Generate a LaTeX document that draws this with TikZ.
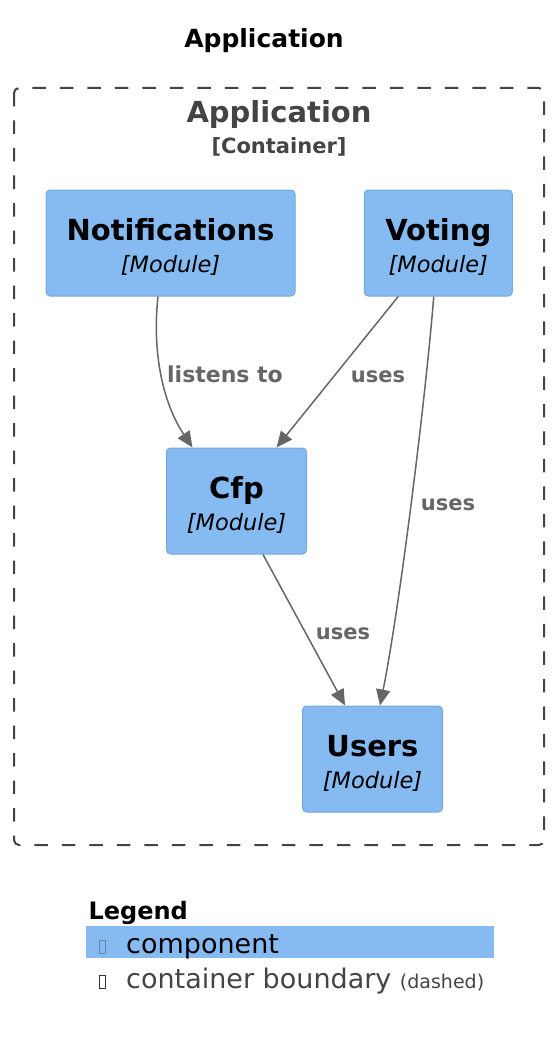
\documentclass[tikz,border=0pt]{standalone}
\usepackage{fontspec}
\setmainfont{DejaVu Sans}
\usetikzlibrary{arrows.meta}
\definecolor{compfill}{HTML}{85BBF0}
\definecolor{compline}{HTML}{78A8D8}
\definecolor{relgray}{HTML}{666666}
\definecolor{bndgray}{HTML}{444444}
\newcommand\modtype{\fontsize{22.5}{31}\selectfont\mdseries\itshape}
\newcommand\modstrut{\rule{0pt}{30pt}}
\begin{document}
\begin{tikzpicture}[x=1pt,y=-1pt,
comp/.style={rectangle, rounded corners=4pt, fill=compfill, draw=compline, line width=1pt, align=center, inner sep=0pt, minimum height=106pt, font=\fontsize{29}{32}\selectfont\bfseries},
rel/.style={relgray, line width=1.5pt, -{Triangle[width=14pt,length=16pt]}},
rlabel/.style={text=relgray, anchor=base, font=\fontsize{21}{21}\selectfont\bfseries}]
\useasboundingbox (0,0) rectangle (554,1043);
\node[font=\fontsize{25}{25}\selectfont\bfseries] (title) at (264,41){Application};
\draw[bndgray, line width=2pt, dash pattern=on 13.5pt off 14pt, rounded corners=5pt] (14,88) rectangle (544,845);
\node[text=bndgray, font=\fontsize{29}{29}\selectfont\bfseries] (appname) at (279,115){Application};
\node[text=bndgray, font=\fontsize{21}{21}\selectfont\bfseries] (apptype) at (279,147){[Container]};
\node[comp, minimum width=249pt] (notif) at (170.5,243){\modstrut Notifications\\{\modtype [Module]}};
\node[comp, minimum width=148pt] (voting) at (438.25,243){\modstrut Voting\\{\modtype [Module]}};
\node[comp, minimum width=140pt] (cfp) at (236.5,501){\modstrut Cfp\\{\modtype [Module]}};
\node[comp, minimum width=140pt] (users) at (372.5,759){\modstrut Users\\{\modtype [Module]}};
\draw[rel]([xshift=-12.5pt]notif.south) .. controls +(-6,55) and +(-30,-45) .. ([xshift=-44pt]cfp.north);
\draw[rel]([xshift=-40pt]voting.south) -- ([xshift=40pt]cfp.north);
\draw[rel]([xshift=-4.5pt]voting.south) .. controls +(-8,100) and +(20,-100) .. ([xshift=7.5pt]users.north);
\draw[rel]([xshift=26.5pt]cfp.south) -- ([xshift=-27.5pt]users.north);
\node[rlabel, font=\fontsize{22}{22}\selectfont\bfseries] (lbllisten) at (225,382){listens to};
\node[rlabel] (lblvotecfp) at (378,382){uses};
\node[rlabel] (lblvoteusr) at (448,510){uses};
\node[rlabel] (lblcfpusr) at (343,639){uses};
\node[font=\fontsize{24}{24}\selectfont\bfseries, anchor=base west] (legend) at (85,919){Legend};
\node[fill=compfill, inner sep=0pt, minimum width=408pt, minimum height=32pt] (legcomp) at (290,942){};
\node[draw=compline!80!black, line width=0.6pt, inner sep=0pt, minimum width=6pt, minimum height=13pt] (iconcomp) at (102,947){};
\node[font=\fontsize{27}{27}\selectfont, anchor=base west, inner sep=0pt] (txtcomp) at (126,953){component};
\node[draw=black!80, line width=0.8pt, inner sep=0pt, minimum width=6pt, minimum height=13pt] (iconbnd) at (102,982){};
\node[text=bndgray, font=\fontsize{27}{27}\selectfont, anchor=base west, inner sep=0pt] (txtbnd) at (126,988){container boundary {\fontsize{19}{19}\selectfont (dashed)}};
\end{tikzpicture}
\end{document}
